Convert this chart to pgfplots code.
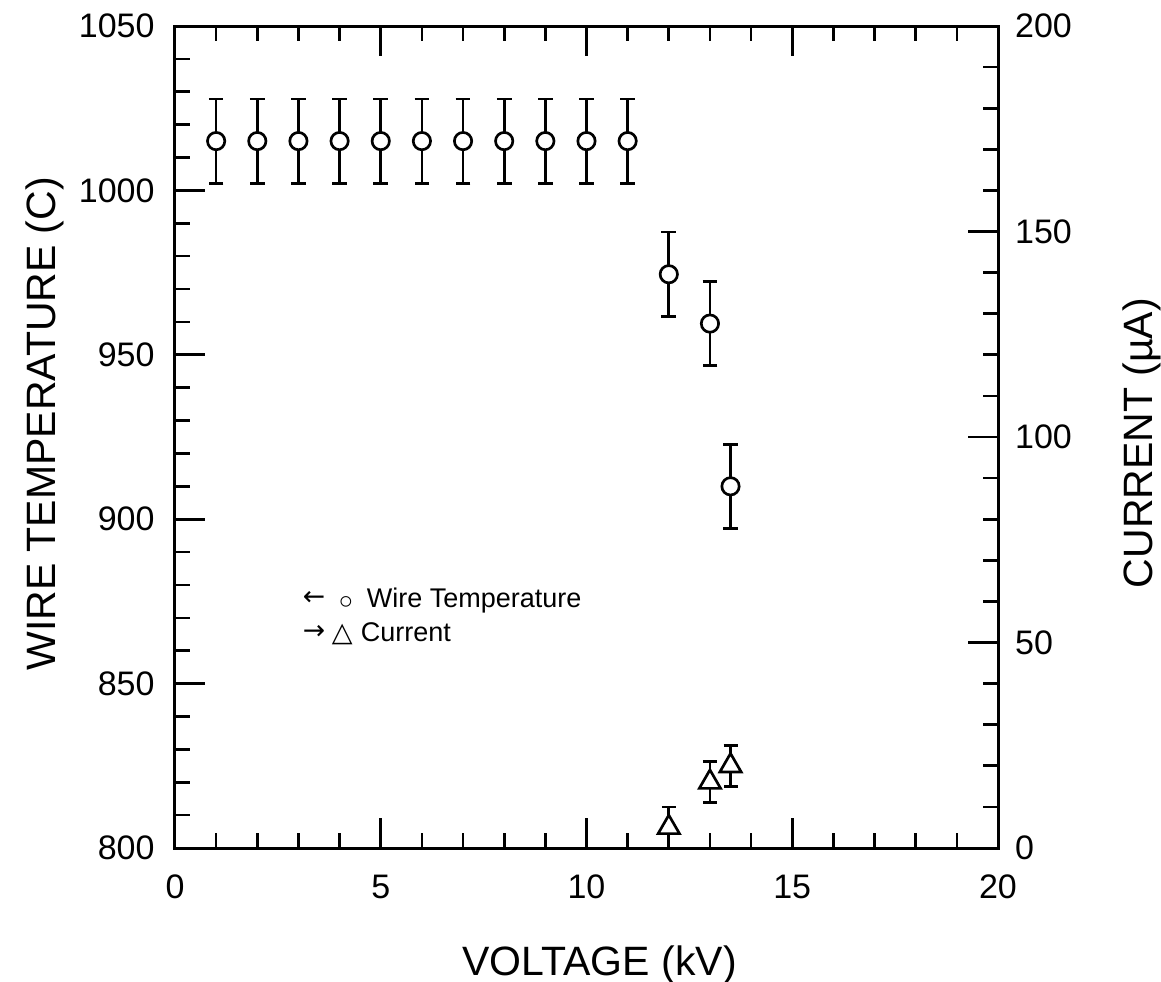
\documentclass[border=0pt]{standalone}
\usepackage{fontspec}
\setmainfont{Liberation Sans}
\newfontfamily\symfont{DejaVu Sans}
\usepackage{pgfplots}
\pgfplotsset{compat=1.18}
\pgfplotstableread{
x y e
1 1015 12.8
2 1015 12.8
3 1015 12.8
4 1015 12.8
5 1015 12.8
6 1015 12.8
7 1015 12.8
8 1015 12.8
9 1015 12.8
10 1015 12.8
11 1015 12.8
12 974.5 12.8
13 959.5 12.8
13.5 910 12.8
}\temptable
\pgfplotstableread{
x y e
12 5 5
13 16 5
13.5 20 5
}\currenttable
\pgfplotsset{
  common/.style={
    at={(0,0)}, anchor=south west,
    scale only axis, width=246.9pt, height=246.6pt,
    xmin=0, xmax=20,
    tick align=inside,
    major tick length=9pt, minor tick length=4.5pt,
    axis line style={line width=0.9pt},
    tick style={line width=0.8pt, black},
    /pgf/number format/assume math mode=true,
    /pgf/number format/1000 sep={},
    tick label style={font=\fontsize{10.2}{12}\selectfont},
    label style={font=\fontsize{12.3}{14}\selectfont},
  }
}
\begin{document}
\begin{tikzpicture}
\begin{axis}[common,
  ymin=800, ymax=1050,
  xtick={0,5,...,20}, ytick={800,850,...,1050},
  minor x tick num=4, minor y tick num=4,
  xtick pos=both, ytick pos=left,
  xticklabel style={yshift=-4.6pt},
  yticklabel style={xshift=-2.6pt},
  xlabel={VOLTAGE (kV)},
  xlabel style={at={(axis description cs:0.516,-0.1557)}, anchor=base},
  ylabel={WIRE TEMPERATURE (C)},
  ylabel style={at={(axis description cs:-0.158,0.516)}, anchor=center},
]
\addplot[only marks, mark=*, mark size=2.6pt,
  mark options={fill=white, draw=black, line width=0.8pt},
  error bars/.cd, y dir=both, y explicit,
  error bar style={line width=0.8pt, black},
  error mark options={rotate=90, line width=0.8pt, mark size=2.2pt, black}]
  table[x=x, y=y, y error=e] {\temptable};
\node[anchor=base west, inner sep=0, font=\fontsize{8.1}{9.6}\selectfont] at (axis cs:3.09,873)
  {\raisebox{0.6pt}{\symfont\fontsize{8}{8}\selectfont ←}\hspace{3pt}\raisebox{-2.2pt}{\symfont\fontsize{11}{11}\selectfont ◦}\hspace{3pt}Wire Temperature};
\node[anchor=base west, inner sep=0, font=\fontsize{8.1}{9.6}\selectfont] at (axis cs:3.09,862.7)
  {\raisebox{0.6pt}{\symfont\fontsize{8}{8}\selectfont →}\hspace{2pt}{\symfont △}\hspace{2.5pt}Current};
\end{axis}
\begin{axis}[common,
  ymin=0, ymax=200,
  axis x line=none, axis y line*=right,
  ytick={0,50,...,200}, minor y tick num=4,
  yticklabel style={xshift=1.6pt},
  ylabel={CURRENT (µA)},
  ylabel style={at={(axis description cs:1.175,0.4927)}, anchor=center},
]
\addplot[only marks, mark=triangle*, mark size=3.7pt,
  mark options={fill=white, draw=black, line width=0.8pt},
  error bars/.cd, y dir=both, y explicit,
  error bar style={line width=0.8pt, black},
  error mark options={rotate=90, line width=0.8pt, mark size=2.1pt, black}]
  table[x=x, y=y, y error=e] {\currenttable};
\end{axis}
\pgfresetboundingbox
\path (-52.5pt,-40.2pt) rectangle (295.8pt,254.4pt);
\end{tikzpicture}
\end{document}
